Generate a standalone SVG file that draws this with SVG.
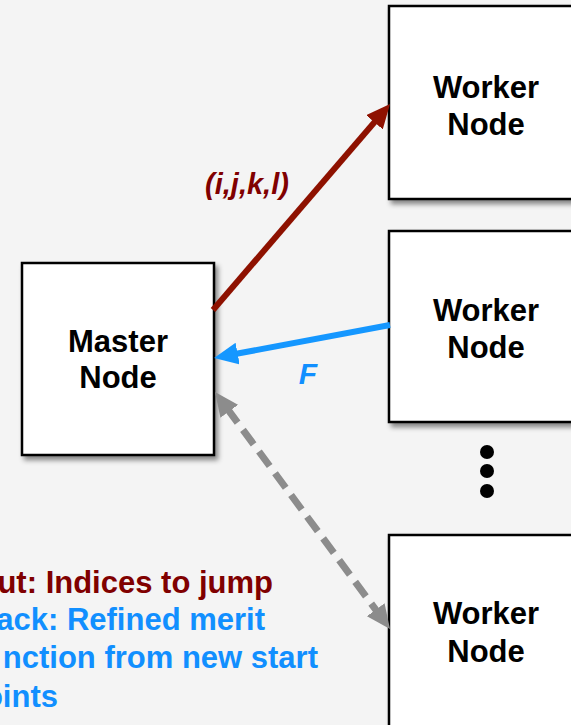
<svg xmlns="http://www.w3.org/2000/svg" width="571" height="725" viewBox="0 0 571 725">
  <defs>
    <filter id="shadow" x="-10%" y="-10%" width="130%" height="130%">
      <feDropShadow dx="3" dy="4" stdDeviation="2.5" flood-color="#000" flood-opacity="0.45"/>
    </filter>
    <marker id="head-red" viewBox="0 0 24 22" refX="4" refY="11" markerWidth="24" markerHeight="22" markerUnits="userSpaceOnUse" orient="auto">
      <path d="M0,0 L24,11 L0,22 Z" fill="#8e1100"/>
    </marker>
    <marker id="head-blue" viewBox="0 0 24 22" refX="4" refY="11" markerWidth="24" markerHeight="22" markerUnits="userSpaceOnUse" orient="auto">
      <path d="M0,0 L24,11 L0,22 Z" fill="#1597ff"/>
    </marker>
    <marker id="head-gray" viewBox="0 0 24 22" refX="4" refY="11" markerWidth="24" markerHeight="22" markerUnits="userSpaceOnUse" orient="auto-start-reverse">
      <path d="M0,0 L24,11 L0,22 Z" fill="#8c8c8c"/>
    </marker>
  </defs>
  <style>
    .box { fill: #ffffff; stroke: #000000; stroke-width: 2.5; filter: url(#shadow); }
    .label { font-family: "Liberation Sans", Arial, sans-serif; font-weight: bold; font-size: 31px; fill: #000000; text-anchor: middle; }
    .note { font-family: "Liberation Sans", Arial, sans-serif; font-weight: bold; font-size: 31px; text-anchor: end; }
    .red { fill: #800000; }
    .blue { fill: #118fff; }
    .tag { font-family: "Liberation Sans", Arial, sans-serif; font-weight: bold; font-style: italic; text-anchor: middle; }
  </style>

  <rect x="0" y="0" width="571" height="725" fill="#f4f4f4"/>

  <g id="master">
    <rect class="box" x="22" y="263" width="192" height="192"/>
    <text class="label" x="118" y="352">Master</text>
    <text class="label" x="118" y="388">Node</text>
  </g>

  <g id="worker-1">
    <rect class="box" x="389" y="6" width="210" height="193"/>
    <text class="label" x="486" y="98">Worker</text>
    <text class="label" x="486" y="135">Node</text>
  </g>

  <g id="worker-2">
    <rect class="box" x="389" y="231" width="210" height="191"/>
    <text class="label" x="486" y="321">Worker</text>
    <text class="label" x="486" y="358">Node</text>
  </g>

  <g id="ellipsis">
    <circle cx="487" cy="452" r="7" fill="#000"/>
    <circle cx="487" cy="471" r="7" fill="#000"/>
    <circle cx="487" cy="491" r="7" fill="#000"/>
  </g>

  <g id="worker-3">
    <rect class="box" x="389" y="535" width="210" height="230"/>
    <text class="label" x="486" y="624">Worker</text>
    <text class="label" x="486" y="662">Node</text>
  </g>

  <g id="connectors">
    <line x1="213" y1="310" x2="377" y2="119.2" stroke="#8e1100" stroke-width="6" marker-end="url(#head-red)"/>
    <line x1="390" y1="325" x2="233.7" y2="354.3" stroke="#1597ff" stroke-width="6" marker-end="url(#head-blue)"/>
    <line x1="226.9" y1="408.1" x2="378.1" y2="612.9" stroke="#8c8c8c" stroke-width="7" stroke-dasharray="18 9" marker-start="url(#head-gray)" marker-end="url(#head-gray)"/>
    <text class="tag red" x="247" y="194" font-size="29">(i,j,k,l)</text>
    <text class="tag blue" x="308" y="384" font-size="30">F</text>
  </g>

  <g id="legend">
    <text class="note red" x="273" y="593">ut: Indices to jump</text>
    <text class="note blue" x="265" y="630">ack: Refined merit</text>
    <text class="note blue" x="318" y="668">nction from new start</text>
    <text class="note blue" x="58" y="707">oints</text>
  </g>
</svg>
